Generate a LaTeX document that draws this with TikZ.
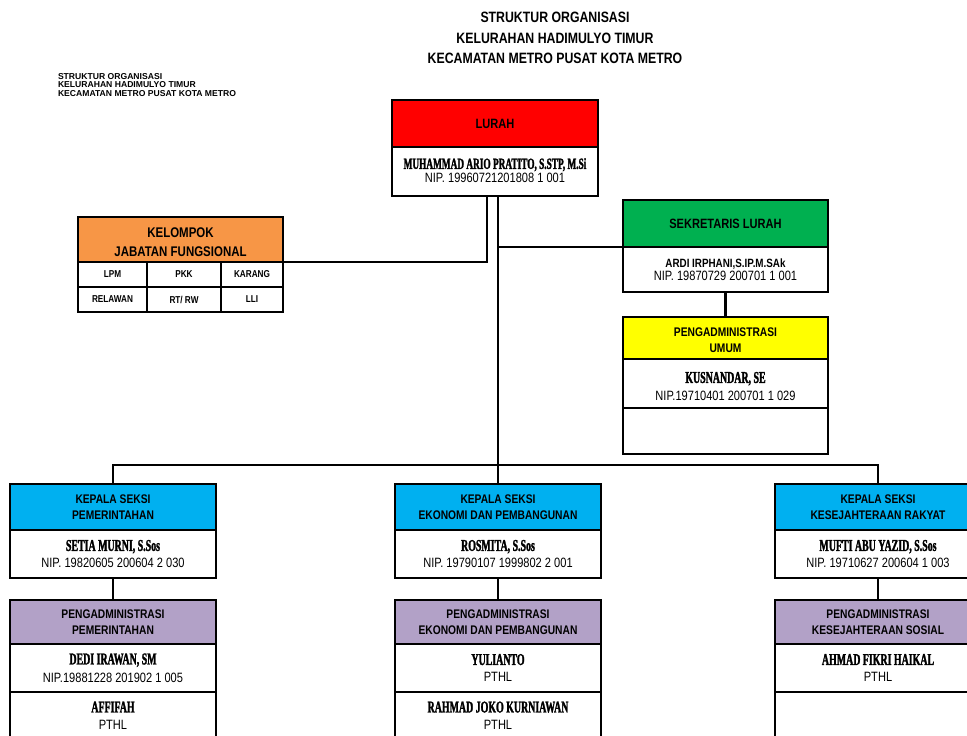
\documentclass[tikz,border=0pt]{standalone}
\usepackage{fontspec}
\setmainfont{Liberation Sans}
\newfontfamily\narrowfont[FakeStretch=0.82]{Liberation Sans}
\newfontfamily\namefont[FakeStretch=0.6, FakeBold=1.6]{Liberation Serif}
\usepackage{tikz}
\usetikzlibrary{positioning}
\definecolor{lurahred}{RGB}{255,0,0}
\definecolor{fungorange}{RGB}{247,150,70}
\definecolor{sekgreen}{RGB}{0,176,80}
\definecolor{admyellow}{RGB}{255,255,0}
\definecolor{seksiblue}{RGB}{0,176,240}
\definecolor{admpurple}{RGB}{178,161,199}
\newcommand{\nama}[2][16.5]{{\namefont\bfseries\fontsize{#1}{17}\selectfont #2}}
\tikzset{
x=1pt, y=-1pt, % one unit is one pixel of the chart, y runs downwards
node distance=0pt, % stacked boxes touch each other
every node/.style={inner sep=0pt, outer sep=0pt, align=center},
box/.style={draw, line width=2.6pt, fill=white, minimum width=206pt, font=\narrowfont\fontsize{13.5}{17}\selectfont}, % white part of a box
head/.style={box, font=\narrowfont\bfseries\fontsize{12.5}{16}\selectfont}, % coloured title of a box
cell/.style={draw, line width=1.6pt, fill=white, minimum height=25pt, font=\narrowfont\bfseries\fontsize{10}{11}\selectfont},
link/.style={line width=2.4pt}, % lines between the boxes
}
\begin{document}
\begin{tikzpicture}
\useasboundingbox (0,0) rectangle (967,736);
% titles
\node[anchor=north, font=\narrowfont\bfseries\fontsize{15}{20.5}\selectfont] (judul) at (555,12.5) {STRUKTUR ORGANISASI\\KELURAHAN HADIMULYO TIMUR\\KECAMATAN METRO PUSAT KOTA METRO};
\node[anchor=north west, align=left, font=\bfseries\fontsize{8.6}{8.6}\selectfont] (judulkecil) at (58,73) {STRUKTUR ORGANISASI\\KELURAHAN HADIMULYO TIMUR\\KECAMATAN METRO PUSAT KOTA METRO};
% lurah
\node[head, fill=lurahred, minimum height=47pt, font=\narrowfont\bfseries\fontsize{13.5}{16}\selectfont] (lurah) at (495,123.5) {LURAH};
\node[box, minimum height=49pt, below=of lurah, text depth=2pt] (lurahnama) {\nama[15.5]{MUHAMMAD ARIO PRATITO, S.STP, M.Si}\\[-3pt] NIP. 19960721201808 1 001};
% kelompok jabatan fungsional
\node[head, fill=fungorange, minimum width=205pt, minimum height=45pt, font=\narrowfont\bfseries\fontsize{14}{19}\selectfont] (kjf) at (180.5,239.5) {\rule{0pt}{16pt}KELOMPOK\\JABATAN FUNGSIONAL};
\node[cell, minimum width=69pt, anchor=north west] (lpm) at (kjf.south west) {LPM};
\node[cell, minimum width=74pt, right=of lpm] (pkk) {PKK};
\node[cell, minimum width=62pt, right=of pkk] (karang) {KARANG};
\node[cell, minimum width=69pt, below=of lpm] (relawan) {RELAWAN};
\node[cell, minimum width=74pt, right=of relawan] (rtrw) {RT/ RW};
\node[cell, minimum width=62pt, right=of rtrw] (lli) {LLI};
% sekretaris
\node[head, fill=sekgreen, minimum width=205pt, minimum height=47pt, font=\narrowfont\bfseries\fontsize{13.5}{16}\selectfont] (sekre) at (725.5,223.5) {SEKRETARIS LURAH};
\node[box, minimum width=205pt, minimum height=45pt, below=of sekre] (sekrenama) {{\bfseries\fontsize{12}{14}\selectfont ARDI IRPHANI,S.IP.M.SAk}\\[-4pt] NIP. 19870729 200701 1 001};
\node[head, fill=admyellow, minimum width=205pt, minimum height=42pt, below=25pt of sekrenama] (umum) {\rule{0pt}{13pt}PENGADMINISTRASI\\UMUM};
\node[box, minimum width=205pt, minimum height=49pt, below=of umum] (umumnama) {\rule{0pt}{17pt}\nama{KUSNANDAR, SE}\\[1pt] NIP.19710401 200701 1 029};
\node[box, minimum width=205pt, minimum height=46pt, below=of umumnama] (umumkosong) {};
% seksi pemerintahan
\node[head, fill=seksiblue, minimum height=46pt] (pem) at (113,507) {KEPALA SEKSI\\PEMERINTAHAN};
\node[box, minimum height=48pt, below=of pem] (pemnama) {\nama{SETIA MURNI, S.Sos}\\NIP. 19820605 200604 2 030};
\node[head, fill=admpurple, minimum height=44pt, below=22pt of pemnama] (admpem) {PENGADMINISTRASI\\PEMERINTAHAN};
\node[box, minimum height=48pt, below=of admpem] (admpemnama) {\nama{DEDI IRAWAN, SM}\\[1pt]NIP.19881228 201902 1 005};
\node[box, minimum height=60pt, text depth=13pt, below=of admpemnama] (admpempthl) {\nama{AFFIFAH}\\PTHL};
% seksi ekonomi dan pembangunan
\node[head, fill=seksiblue, minimum height=46pt] (eko) at (498,507) {KEPALA SEKSI\\EKONOMI DAN PEMBANGUNAN};
\node[box, minimum height=48pt, below=of eko] (ekonama) {\nama{ROSMITA, S.Sos}\\NIP. 19790107 1999802 2 001};
\node[head, fill=admpurple, minimum height=44pt, below=22pt of ekonama] (admeko) {PENGADMINISTRASI\\EKONOMI DAN PEMBANGUNAN};
\node[box, minimum height=48pt, below=of admeko] (admekonama) {\nama{YULIANTO}\\PTHL};
\node[box, minimum height=60pt, text depth=13pt, below=of admekonama] (admekopthl) {\nama{RAHMAD JOKO KURNIAWAN}\\PTHL};
% seksi kesejahteraan rakyat
\node[head, fill=seksiblue, minimum height=46pt] (kes) at (878,507) {KEPALA SEKSI\\KESEJAHTERAAN RAKYAT};
\node[box, minimum height=48pt, below=of kes] (kesnama) {\nama{MUFTI ABU YAZID, S.Sos}\\NIP. 19710627 200604 1 003};
\node[head, fill=admpurple, minimum height=44pt, below=22pt of kesnama] (admkes) {PENGADMINISTRASI\\KESEJAHTERAAN SOSIAL};
\node[box, minimum height=48pt, below=of admkes] (admkesnama) {\nama{AHMAD FIKRI HAIKAL}\\PTHL};
\node[box, minimum height=60pt, below=of admkesnama] (admkeskosong) {};
% lines
\coordinate (bus) at (498,465);
\draw[link] ([xshift=-8pt]lurahnama.south) |- (kjf.south east);
\draw[link] ([xshift=3pt]lurahnama.south) -- (bus);
\draw[link] ([xshift=3pt]lurahnama.south) |- (sekre.south west);
\draw[link] (sekrenama) -- (umum);
\draw[link] (pem.north) |- (bus) -| (kes.north);
\draw[link] (bus) -- (eko.north);
\draw[link] (pemnama) -- (admpem);
\draw[link] (ekonama) -- (admeko);
\draw[link] (kesnama) -- (admkes);
\end{tikzpicture}
\end{document}
